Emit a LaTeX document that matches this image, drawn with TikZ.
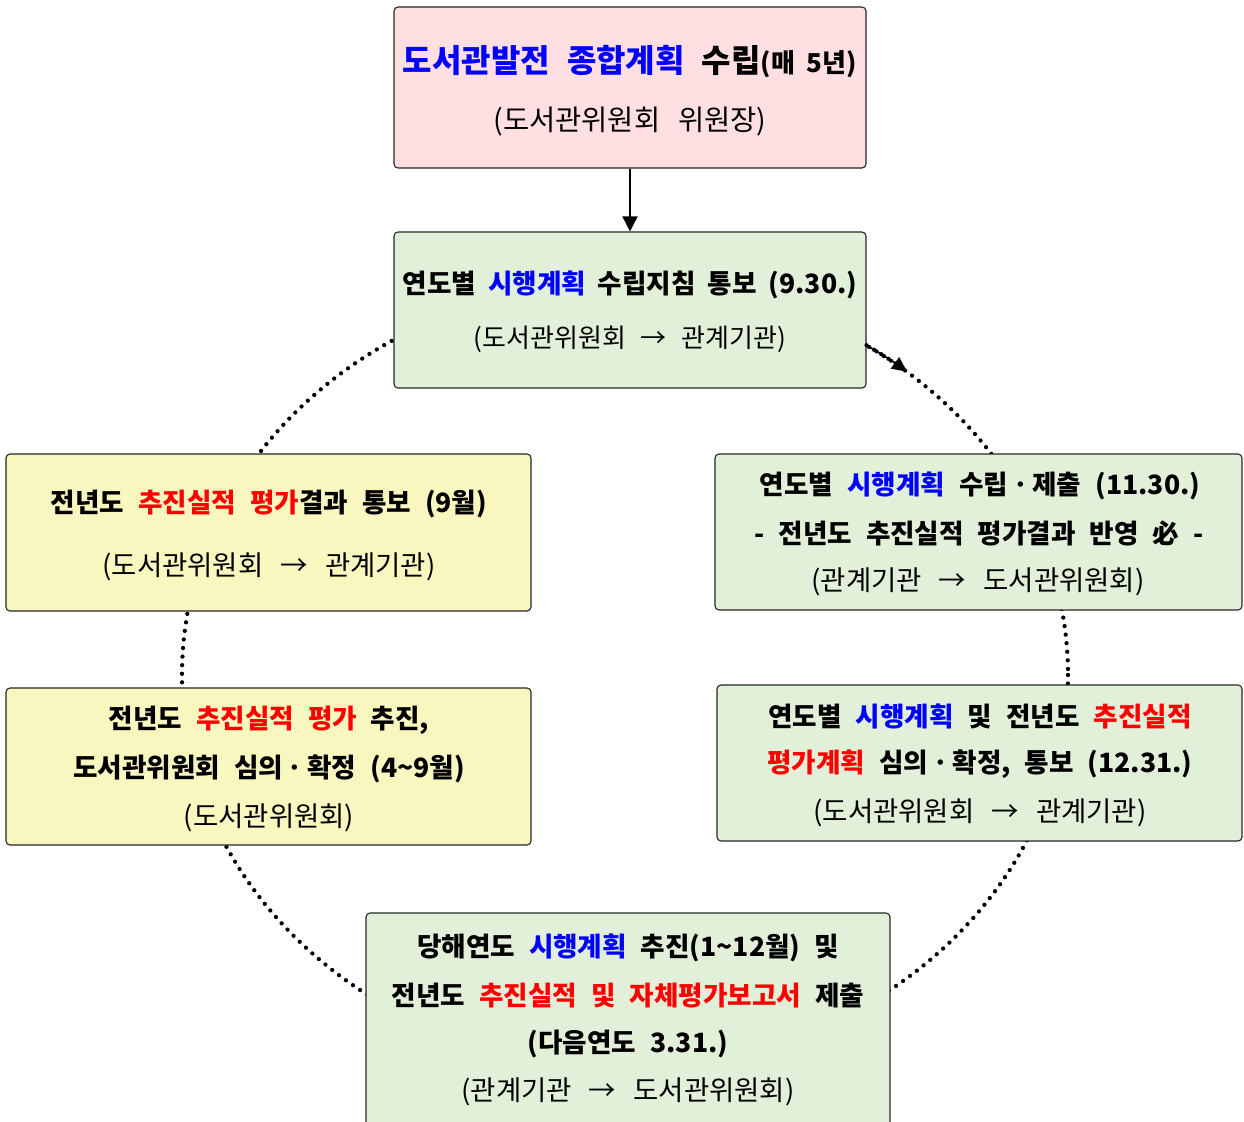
\documentclass[tikz,border=0pt]{standalone}
\usepackage{fontspec}
\usetikzlibrary{arrows.meta}
\setmainfont{Noto Sans CJK KR}
\definecolor{pinkfill}{HTML}{FFDFE2}
\definecolor{greenfill}{HTML}{E2F0D9}
\definecolor{yellowfill}{HTML}{F9F7C0}
\definecolor{tblue}{HTML}{0000FF}
\definecolor{tred}{HTML}{FF0000}
\newcommand{\boldfnt}{\fontsize{26.6}{26.6}\selectfont\bfseries\spaceskip 14pt plus 0pt minus 0pt\relax}
\newcommand{\boldfntb}{\fontsize{26.6}{26.6}\selectfont\bfseries\spaceskip 12pt plus 0pt minus 0pt\relax}
\newcommand{\regfnt}{\fontsize{27.5}{27.5}\selectfont\spaceskip 17pt plus 0pt minus 0pt\relax}
\newcommand{\regfntb}{\fontsize{26}{26}\selectfont\spaceskip 15pt plus 0pt minus 0pt\relax}
\newcommand{\regfntc}{\fontsize{28.5}{28.5}\selectfont\spaceskip 18pt plus 0pt minus 0pt\relax}
\newcommand{\titlefnt}{\fontsize{32}{32}\selectfont\bfseries\spaceskip 17pt plus 0pt minus 0pt\relax}
\newcommand{\smallbfnt}{\fontsize{26}{26}\selectfont\spaceskip 12pt plus 0pt minus 0pt\relax}
\tikzset{
  box/.style={draw=black!85, line width=1.1pt, rounded corners=4pt, inner sep=0pt},
  bl/.style={inner sep=0pt, font=\boldfnt, anchor=center, yshift=-1.5pt},
  rl/.style={inner sep=0pt, font=\regfnt, anchor=center, yshift=-1.5pt},
  dotline/.style={line width=4.3pt, line cap=round, dash pattern=on 0pt off 8.6pt},
}
\newcommand{\bb}[1]{\textcolor{tblue}{#1}}
\newcommand{\rr}[1]{\textcolor{tred}{#1}}
\begin{document}
\begin{tikzpicture}[x=1pt,y=-1pt]
\useasboundingbox (0,0) rectangle (1244,1121);
% dotted cycle
\draw[dotline] (625,675) ellipse [x radius=443, y radius=393];
% boxes
\node[box, fill=pinkfill, minimum width=472pt, minimum height=161pt] (b1) at (630,87.5) {};
\node[box, fill=greenfill, minimum width=472pt, minimum height=156pt] (b2) at (630,310) {};
\node[box, fill=yellowfill, minimum width=525pt, minimum height=157pt] (b3) at (268.5,532.5) {};
\node[box, fill=greenfill, minimum width=527pt, minimum height=156pt] (b4) at (978.5,532) {};
\node[box, fill=yellowfill, minimum width=525pt, minimum height=157pt] (b5) at (268.5,766.5) {};
\node[box, fill=greenfill, minimum width=525pt, minimum height=156pt] (b6) at (979.5,763) {};
\node[box, fill=greenfill, minimum width=524pt, minimum height=220pt] (b7) at (628,1023) {};
% arrows
\draw[line width=1.6pt, -{Triangle[length=15pt,width=15pt]}] (b1.south) -- (b2.north);
\draw[dotline] (b2.east |- 0,345.3) arc[start angle=-57, end angle=-50.5, x radius=443, y radius=393];
\draw[line width=1.6pt, -{Triangle[length=15pt,width=14pt]}] (b2.east |- 0,345.3) arc[start angle=-57, end angle=-50.5, x radius=443, y radius=393];
% texts
\node[bl, font=\titlefnt] (t11) at (630,60) {\bb{도서관발전 종합계획} 수립{\smallbfnt(매 5년)}};
\node[rl, font=\regfntc] (t12) at (630,120) {(도서관위원회 위원장)};
\node[bl, font=\boldfntb] (t21) at (630,283) {연도별 \bb{시행계획} 수립지침 통보 (9.30.)};
\node[rl, font=\regfntb] (t22) at (630,338) {(도서관위원회 → 관계기관)};
\node[bl] (t31) at (269,502) {전년도 \rr{추진실적 평가}결과 통보 (9월)};
\node[rl] (t32) at (269,565) {(도서관위원회 → 관계기관)};
\node[bl] (t41) at (980,484) {연도별 \bb{시행계획} 수립ㆍ제출 (11.30.)};
\node[bl] (t42) at (979,532) {- 전년도 추진실적 평가결과 반영 必 -};
\node[rl] (t43) at (978,580) {(관계기관 → 도서관위원회)};
\node[bl] (t51) at (269,719) {전년도 \rr{추진실적 평가} 추진,};
\node[bl] (t52) at (269,767) {도서관위원회 심의ㆍ확정 (4\textasciitilde 9월)};
\node[rl] (t53) at (269,816) {(도서관위원회)};
\node[bl] (t61) at (980,715) {연도별 \bb{시행계획} 및 전년도 \rr{추진실적}};
\node[bl] (t62) at (980,763) {\rr{평가계획} 심의ㆍ확정, 통보 (12.31.)};
\node[rl] (t63) at (980,811) {(도서관위원회 → 관계기관)};
\node[bl] (t71) at (628,946) {당해연도 \bb{시행계획} 추진(1\textasciitilde 12월) 및};
\node[bl] (t72) at (628,994) {전년도 \rr{추진실적 및 자체평가보고서} 제출};
\node[bl] (t73) at (628,1042) {(다음연도 3.31.)};
\node[rl] (t74) at (628,1090) {(관계기관 → 도서관위원회)};
\end{tikzpicture}
\end{document}
